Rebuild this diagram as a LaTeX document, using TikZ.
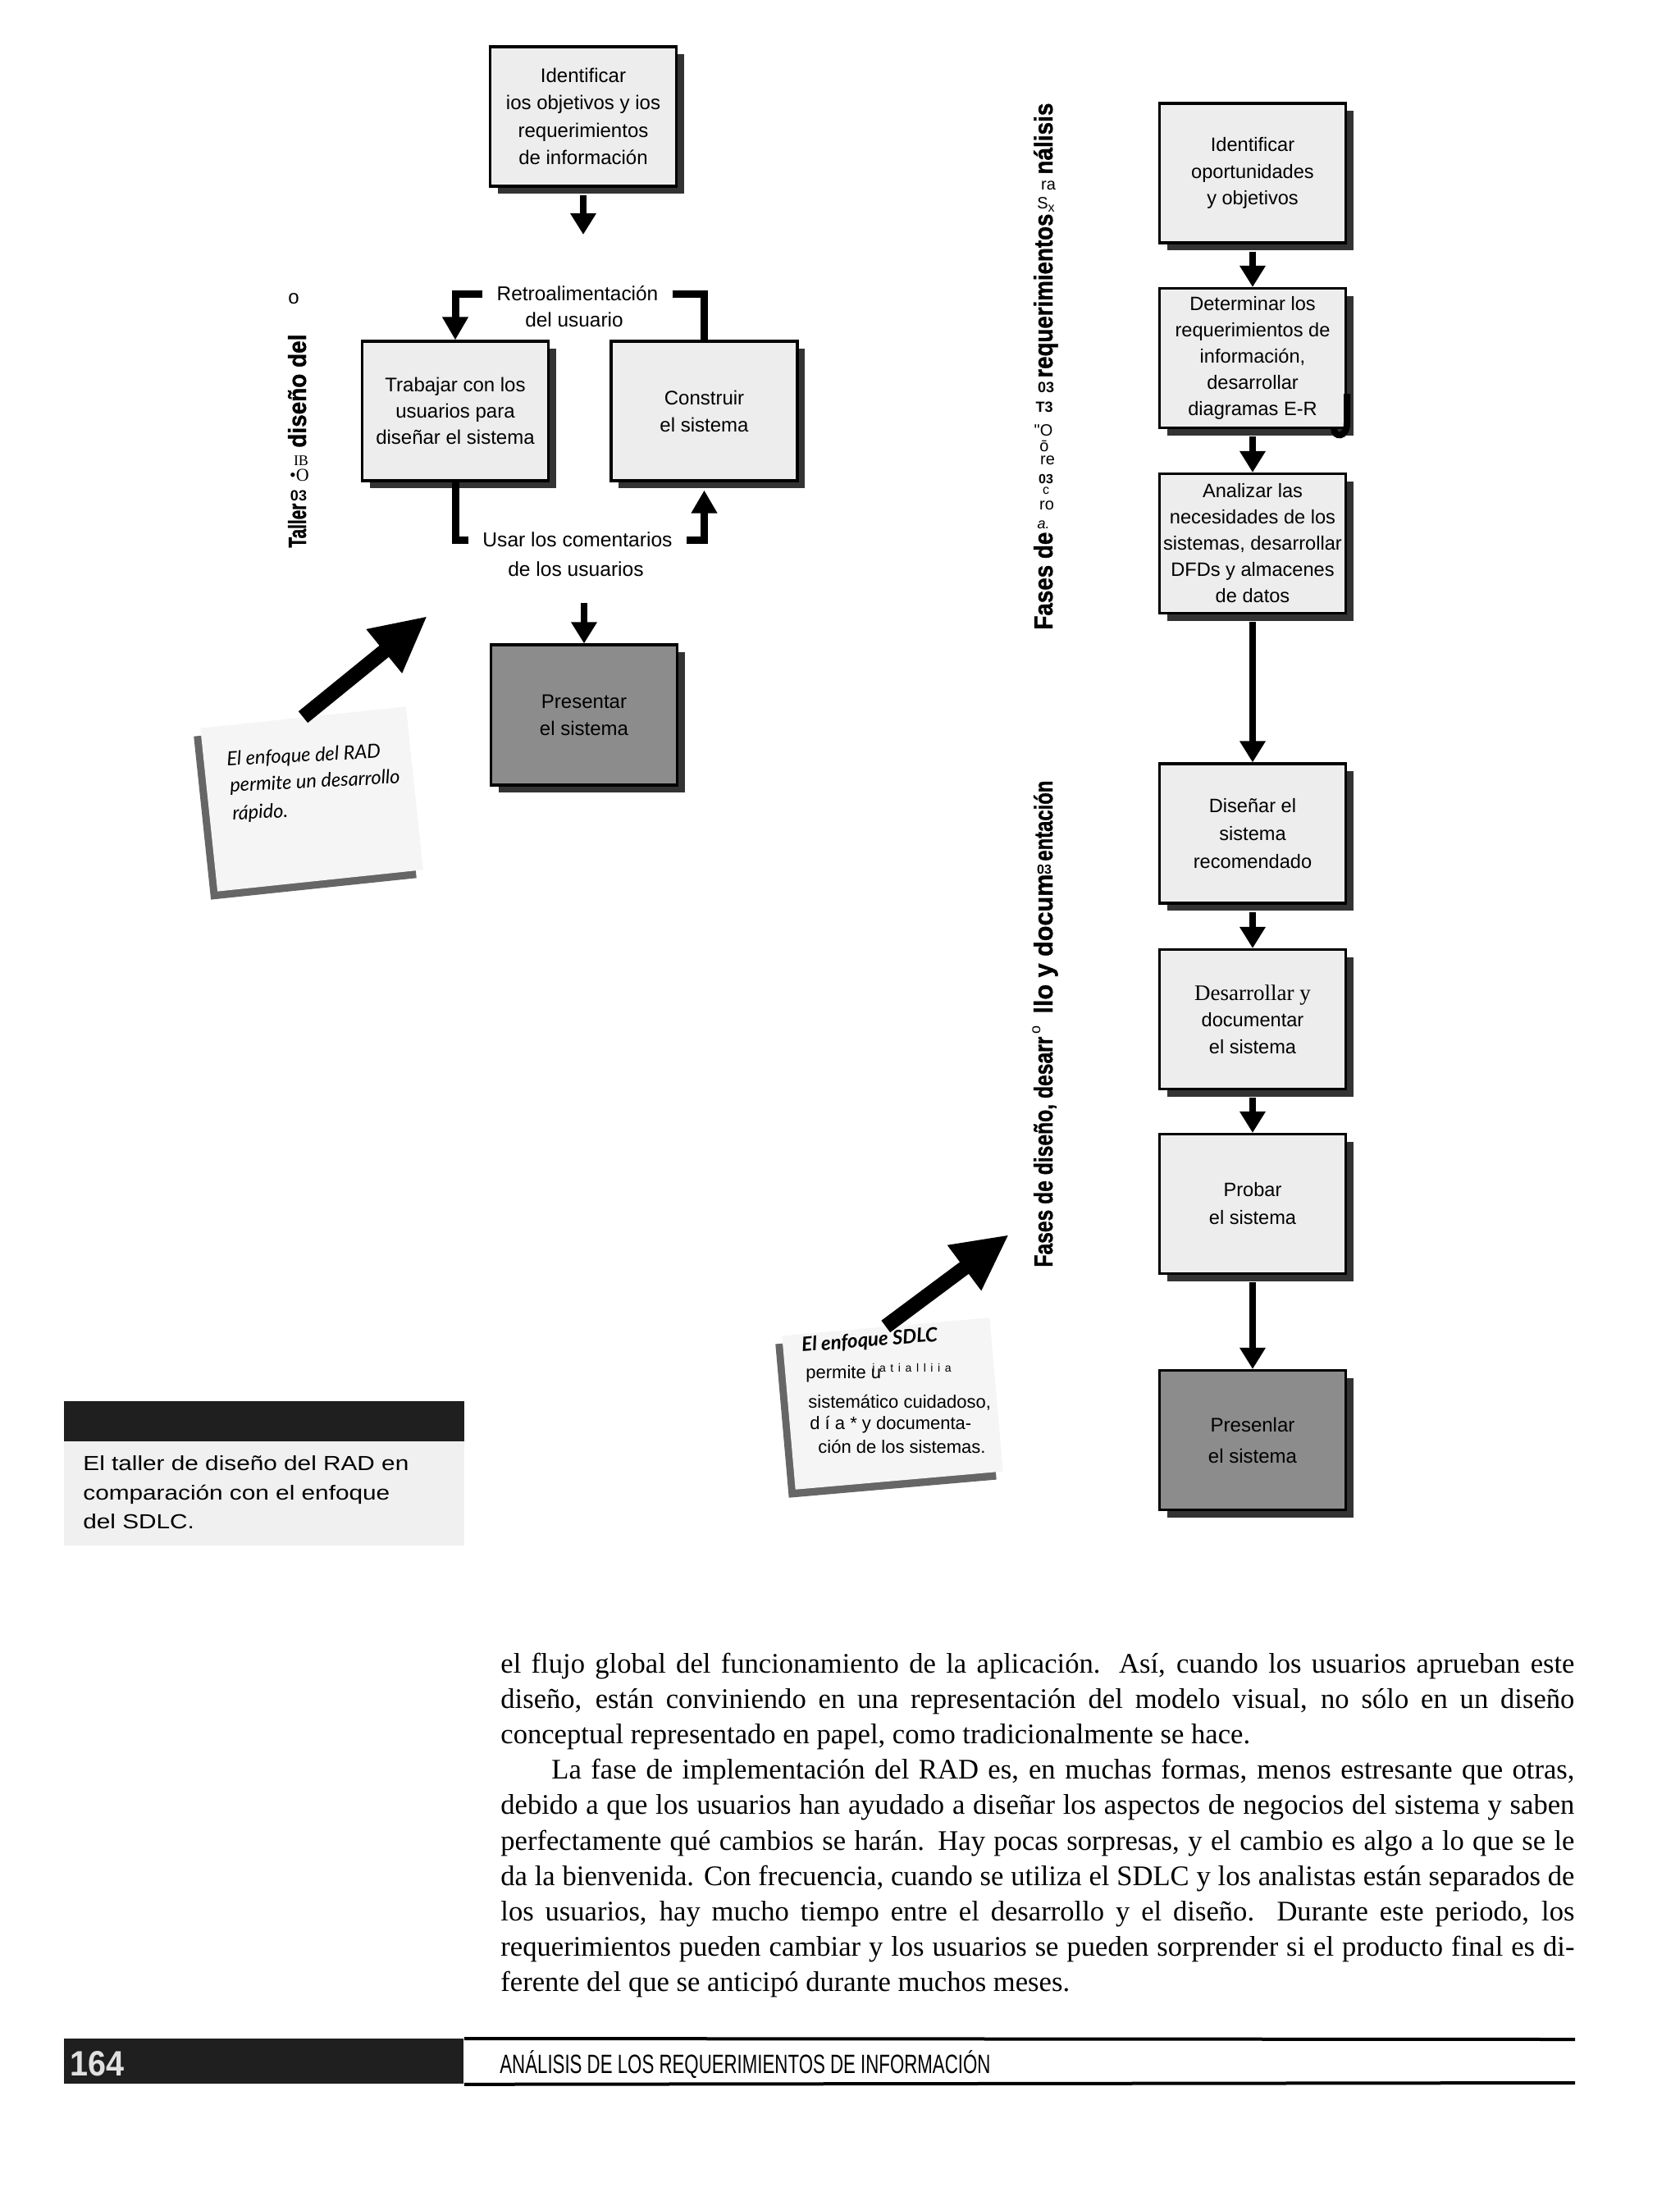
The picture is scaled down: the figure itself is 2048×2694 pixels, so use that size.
\documentclass[tikz,border=0pt]{standalone}
\usepackage{fontspec}
\usepackage{graphicx}
\setmainfont{Liberation Serif}
\newfontfamily\sansf{Liberation Sans}
\newfontfamily\heavy{Liberation Sans}[FakeBold=1.2]
\newfontfamily\tnr{Liberation Serif}
\newfontfamily\capfont{Liberation Sans}[FakeStretch=1.2]
\newfontfamily\hand{Lato}
\newfontfamily\spaced{Liberation Sans}[LetterSpace=40]
\usetikzlibrary{arrows.meta,shadows}
\begin{document}
\begin{tikzpicture}[x=0.5pt,y=-0.5pt,
  pbox/.style={draw=black, line width=1.6pt, fill=black!7, minimum width=113.5pt, minimum height=85pt,
    inner sep=0pt, align=center, font=\sansf\fontsize{11.8}{16.3}\selectfont,
    drop shadow={shadow xshift=4.5pt, shadow yshift=-4.5pt, fill=black!80, opacity=1}},
  dbox/.style={pbox, fill=black!45},
  arr/.style={line width=4pt, -{Triangle[width=15pt,length=13pt]}},
  fb/.style={line width=4.5pt},
  fbarr/.style={fb, -{Triangle[width=15pt,length=14pt]}},
  bigarr/.style={line width=9pt, -{Triangle[width=32pt,length=34pt]}},
  lbl/.style={font=\sansf\fontsize{12.2}{14}\selectfont, inner ysep=0pt, inner xsep=8.8pt},
  vl/.style={rotate=90, anchor=base west, inner sep=0pt},
  frag/.style={inner sep=0pt, font=\sansf\fontsize{9}{9}\selectfont},
  note/.style={fill=black!4, inner sep=0pt,
    drop shadow={shadow xshift=-4pt, shadow yshift=-5pt, fill=black!60, opacity=1}},
  radline/.style={rotate=3, anchor=west, inner sep=0pt, font=\hand\itshape\fontsize{11.8}{13}\selectfont},
  body/.style={anchor=base west, inner sep=0pt, font=\fontsize{17.3}{21.6}\selectfont},
  captxt/.style={anchor=base west, inner sep=0pt, font=\capfont\fontsize{12.4}{14}\selectfont},
  sdlctxt/.style={anchor=west, inner sep=0pt, font=\sansf\fontsize{11}{13}\selectfont}
]
\fill[white] (0,0) rectangle (2048,2694);
\useasboundingbox (0,0) rectangle (2048,2694);

% ---------------- left diagram (RAD) ----------------
\node[pbox, font=\sansf\fontsize{12}{16.7}\selectfont] (ident) at (711,142)
  {Identificar\\ios objetivos y ios\\requerimientos\\de información};
\node[pbox, font=\sansf\fontsize{12}{16}\selectfont] (trab) at (555,501)
  {Trabajar con los\\usuarios para\\diseñar el sistema};
\node[pbox, font=\sansf\fontsize{12}{16.5}\selectfont] (constr) at (858.5,501)
  {Construir\\el sistema};
\node[dbox, font=\sansf\fontsize{12}{16.5}\selectfont, minimum height=85.5pt] (pres) at (712,871.5)
  {Presentar\\el sistema};

\node[lbl] (retro1) at (704,358) {Retroalimentación};
\node[lbl] (retro2) at (700,390) {del usuario};
\node[lbl, inner xsep=8.5pt, font=\sansf\fontsize{12.3}{14}\selectfont] (usar1) at (704,658) {Usar los comentarios};
\node[lbl, font=\sansf\fontsize{12.3}{14}\selectfont] (usar2) at (702,694) {de los usuarios};

\coordinate (a1) at (711,286);
\draw[arr] ([yshift=-4.5pt]ident.south) -- (a1);
\draw[fb] (constr.north) |- (retro1.east);
\draw[fbarr] (retro1.west) -| (trab.north);
\draw[fb] (trab.south) |- (usar1.west);
\draw[fbarr, shorten >=5pt] (usar1.east) -| (constr.south);
\coordinate (a4) at (712,735);
\draw[arr] (a4) -- (pres.north);

% left vertical title (as printed)
\node[vl] (lt1) at (373,668) {\resizebox{27pt}{11pt}{\heavy\bfseries Taller}};
\node[frag, font=\sansf\bfseries\fontsize{9}{9}\selectfont] (lt2) at (364,604) {03};
\node[frag, font=\tnr\fontsize{11}{11}\selectfont] (lt3) at (365,579) {•O};
\node[frag, font=\tnr\fontsize{9}{9}\selectfont] (lt4) at (367,562) {IB};
\node[vl] (lt5) at (373,546) {\resizebox{69pt}{11pt}{\heavy\bfseries diseño del}};
\node[frag, font=\sansf\fontsize{12}{12}\selectfont] (lt6) at (358,364) {o};

% RAD note
\node[note, rotate=6, minimum width=126pt, minimum height=100pt] (radnote) at (380,974) {};
\node[radline] (rad1) at (276,927) {El enfoque del RAD};
\node[radline] (rad2) at (280,959) {permite un desarrollo};
\node[radline] (rad3) at (283,993) {rápido.};
\coordinate (radtip) at (521,751);
\draw[bigarr] (radnote.north) -- (radtip);

% ---------------- right diagram (SDLC) ----------------
\node[pbox] (r1) at (1527,211) {Identificar\\oportunidades\\y objetivos};
\node[pbox, font=\sansf\fontsize{11.8}{16}\selectfont] (r2) at (1527,436.5)
  {Determinar los\\requerimientos de\\información,\\desarrollar\\diagramas E-R};
\node[pbox, font=\sansf\fontsize{11.8}{16}\selectfont] (r3) at (1527,662.5)
  {Analizar las\\necesidades de los\\sistemas, desarrollar\\DFDs y almacenes\\de datos};
\node[pbox, font=\sansf\fontsize{11.8}{17}\selectfont] (r4) at (1527,1016) {Diseñar el\\sistema\\recomendado};
\node[pbox] (r5) at (1527,1242.5)
  {{\tnr\fontsize{13.5}{16}\selectfont Desarrollar y}\\documentar\\el sistema};
\node[pbox, font=\sansf\fontsize{11.8}{17}\selectfont] (r6) at (1527,1467.5) {Probar\\el sistema};
\node[dbox, font=\sansf\fontsize{12}{19}\selectfont] (r7) at (1527,1755.5) {Presenlar\\el sistema};

\foreach \a/\b in {r1/r2,r2/r3,r3/r4,r4/r5,r5/r6,r6/r7}
  \draw[arr] ([yshift=-4.5pt]\a.south) -- (\b.north);

\draw[line width=4pt] (1642,480) -- (1642,516) .. controls (1642,534) and (1626,534) .. (1626,522);

% right vertical titles (as printed)
\node[vl] (rt1) at (1283,768) {\resizebox{59.5pt}{11.5pt}{\heavy\bfseries Fases de}};
\node[frag, font=\sansf\itshape\fontsize{9}{9}\selectfont] (rt2) at (1272,640) {a.};
\node[frag, font=\sansf\fontsize{10}{10}\selectfont] (rt3) at (1276,616) {ro};
\node[frag, font=\sansf\fontsize{8}{8}\selectfont] (rt4) at (1275,598) {c};
\node[frag, font=\sansf\bfseries\fontsize{8}{8}\selectfont] (rt5) at (1275,584) {03};
\node[frag, font=\sansf\fontsize{10}{10}\selectfont] (rt6) at (1277,561) {re};
\node[frag, font=\sansf\fontsize{10}{10}\selectfont] (rt7) at (1273,544) {ō};
\node[frag, font=\sansf\fontsize{10}{10}\selectfont] (rt8) at (1272,525) {"O};
\node[frag, font=\sansf\bfseries\fontsize{9}{9}\selectfont] (rt9) at (1273,496) {T3};
\node[frag, font=\sansf\bfseries\fontsize{9}{9}\selectfont] (rt10) at (1275,472) {03};
\node[vl] (rt11) at (1283,461) {\resizebox{100pt}{11.5pt}{\heavy\bfseries requerimientos}};
\node[frag, font=\sansf\fontsize{10}{10}\selectfont] (rt12) at (1275,250) {S\raisebox{-2pt}{\fontsize{8}{8}\selectfont x}};
\node[frag, font=\sansf\fontsize{10}{10}\selectfont] (rt13) at (1278,226) {ra};
\node[vl] (rt14) at (1283,213) {\resizebox{43.5pt}{11.5pt}{\heavy\bfseries nálisis}};

\node[vl] (rb1) at (1283,1545) {\resizebox{140.5pt}{11.5pt}{\heavy\bfseries Fases de diseño, desarr}};
\node[vl, font=\sansf\fontsize{9}{9}\selectfont] (rb2) at (1268,1261) {o};
\node[vl] (rb3) at (1283,1236) {\resizebox{85pt}{11.5pt}{\heavy\bfseries llo y docum}};
\node[frag, font=\sansf\bfseries\fontsize{8}{8}\selectfont] (rb4) at (1273,1060) {03};
\node[vl] (rb5) at (1283,1050) {\resizebox{49pt}{11.5pt}{\heavy\bfseries entación}};

% SDLC note
\node[note, rotate=5, minimum width=127pt, minimum height=94pt] (sdlcnote) at (1088,1711) {};
\node[rotate=4.5, anchor=west, inner sep=0pt, font=\hand\bfseries\itshape\fontsize{12}{14}\selectfont] (sdlc1) at (977,1641) {El enfoque SDLC};
\node[sdlctxt] (sdlc2) at (982,1675) {permite u};
\node[sdlctxt, font=\spaced\fontsize{7}{8}\selectfont] (sdlc3) at (1063,1667) {iatialliia};
\node[sdlctxt] (sdlc4) at (985,1710) {sistemático cuidadoso,};
\node[sdlctxt] (sdlc5) at (987,1737) {d í a * y documenta-};
\node[sdlctxt] (sdlc6) at (997,1763) {ción de los sistemas.};
\coordinate (sdlctip) at (1230,1505);
\draw[bigarr] (sdlcnote.north) -- (sdlctip);

% ---------------- caption ----------------
\fill[black!6] (78,1708) rectangle (566,1884);
\node[fill=black!88, minimum width=244pt, minimum height=24.5pt, inner sep=0pt, anchor=north west] (banner) at (78,1708) {};
\node[captxt] (cap1) at (101,1792) {El taller de diseño del RAD en};
\node[captxt] (cap2) at (101,1828) {comparación con el enfoque};
\node[captxt] (cap3) at (101,1863) {del SDLC.};

% ---------------- body text ----------------
\node[body] (t1) at (610,2039) {\makebox[654.5pt][s]{el flujo global del funcionamiento de la aplicación. Así, cuando los usuarios aprueban este}};
\node[body] (t2) at (610,2082.2) {\makebox[654.5pt][s]{diseño, están conviniendo en una representación del modelo visual, no sólo en un diseño}};
\node[body] (t3) at (610,2125.4) {conceptual representado en papel, como tradicionalmente se hace.};
\node[body] (t4) at (610,2168.6) {\makebox[654.5pt][s]{\hspace*{31pt}La fase de implementación del RAD es, en muchas formas, menos estresante que otras,}};
\node[body] (t5) at (610,2211.8) {\makebox[654.5pt][s]{debido a que los usuarios han ayudado a diseñar los aspectos de negocios del sistema y saben}};
\node[body] (t6) at (610,2255) {\makebox[654.5pt][s]{perfectamente qué cambios se harán. Hay pocas sorpresas, y el cambio es algo a lo que se le}};
\node[body] (t7) at (610,2298.2) {\makebox[654.5pt][s]{da la bienvenida. Con frecuencia, cuando se utiliza el SDLC y los analistas están separados de}};
\node[body] (t8) at (610,2341.4) {\makebox[654.5pt][s]{los usuarios, hay mucho tiempo entre el desarrollo y el diseño. Durante este periodo, los}};
\node[body] (t9) at (610,2384.6) {\makebox[654.5pt][s]{requerimientos pueden cambiar y los usuarios se pueden sorprender si el producto final es di-}};
\node[body] (t10) at (610,2427.8) {ferente del que se anticipó durante muchos meses.};

% ---------------- footer ----------------
\node[fill=black!88, anchor=north west, minimum width=243.5pt, minimum height=27.5pt, inner sep=0pt] (foot) at (78,2485) {};
\node[anchor=base west, inner sep=0pt, text=black!12] (pg) at (85,2530) {\resizebox{33pt}{15pt}{\sansf\bfseries 164}};
\coordinate (fr1) at (1920,2486);
\coordinate (fr2) at (1920,2539);
\draw[line width=2pt] (foot.north east) -- (fr1);
\draw[line width=2pt] (foot.south east) -- (fr2);
\node[anchor=base west, inner sep=0pt] (foottxt) at (609,2527) {\resizebox{299pt}{14pt}{\sansf ANÁLISIS DE LOS REQUERIMIENTOS DE INFORMACIÓN}};
\end{tikzpicture}
\end{document}
